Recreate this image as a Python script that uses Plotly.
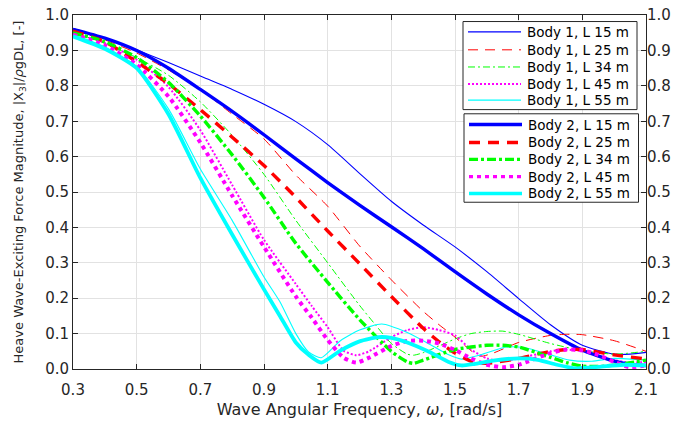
import plotly.graph_objects as go

# ---------------- data ----------------
# Body 1 (thin lines)
b1_l15_w = [0.3, 0.4, 0.5, 0.6, 0.7, 0.8, 0.9, 1.0, 1.1, 1.2, 1.3, 1.4, 1.5, 1.6, 1.7, 1.8, 1.9, 2.0, 2.05, 2.1]
b1_l15_v = [0.962, 0.935, 0.902, 0.866, 0.828, 0.790, 0.748, 0.699, 0.634, 0.553, 0.474, 0.407, 0.345, 0.275, 0.199, 0.125, 0.067, 0.042, 0.042, 0.047]

b1_l25_w = [0.3, 0.4, 0.5, 0.6, 0.7, 0.8, 0.9, 1.0, 1.1, 1.2, 1.3, 1.4, 1.45, 1.5, 1.55, 1.58, 1.62, 1.7, 1.8, 1.85, 1.9, 2.0, 2.1]
b1_l25_v = [0.957, 0.930, 0.893, 0.845, 0.790, 0.720, 0.650, 0.548, 0.460, 0.348, 0.252, 0.163, 0.125, 0.090, 0.052, 0.036, 0.045, 0.075, 0.095, 0.098, 0.097, 0.080, 0.050]

b1_l34_w = [0.3, 0.4, 0.5, 0.6, 0.7, 0.8, 0.9, 1.0, 1.1, 1.2, 1.25, 1.3, 1.35, 1.37, 1.4, 1.45, 1.5, 1.55, 1.6, 1.65, 1.7, 1.8, 1.9, 2.0, 2.1]
b1_l34_v = [0.952, 0.920, 0.880, 0.830, 0.755, 0.660, 0.550, 0.420, 0.300, 0.180, 0.125, 0.072, 0.042, 0.039, 0.046, 0.065, 0.085, 0.100, 0.106, 0.107, 0.098, 0.072, 0.052, 0.042, 0.050]

b1_l45_w = [0.3, 0.4, 0.5, 0.6, 0.7, 0.8, 0.9, 1.0, 1.05, 1.1, 1.15, 1.19, 1.23, 1.3, 1.35, 1.4, 1.45, 1.5, 1.55, 1.6, 1.65, 1.7, 1.8, 1.85, 1.9, 2.0, 2.05, 2.1]
b1_l45_v = [0.948, 0.922, 0.874, 0.797, 0.675, 0.520, 0.365, 0.240, 0.178, 0.118, 0.052, 0.039, 0.050, 0.090, 0.110, 0.118, 0.110, 0.095, 0.055, 0.030, 0.022, 0.030, 0.050, 0.055, 0.050, 0.025, 0.018, 0.020]

b1_l55_w = [0.3, 0.4, 0.5, 0.6, 0.7, 0.8, 0.9, 0.95, 1.0, 1.04, 1.08, 1.14, 1.2, 1.27, 1.35, 1.42, 1.48, 1.52, 1.58, 1.66, 1.72, 1.8, 1.86, 1.93, 2.0, 2.1]
b1_l55_v = [0.945, 0.910, 0.855, 0.735, 0.565, 0.420, 0.260, 0.190, 0.100, 0.048, 0.032, 0.080, 0.110, 0.127, 0.103, 0.070, 0.040, 0.028, 0.040, 0.062, 0.060, 0.040, 0.025, 0.022, 0.030, 0.025]

# Body 2 (thick lines)
b2_l15_w = [0.3, 0.4, 0.5, 0.6, 0.7, 0.8, 0.9, 1.0, 1.1, 1.2, 1.3, 1.4, 1.5, 1.6, 1.7, 1.8, 1.9, 2.0, 2.05, 2.1]
b2_l15_v = [0.960, 0.935, 0.900, 0.850, 0.790, 0.728, 0.662, 0.594, 0.527, 0.463, 0.402, 0.340, 0.275, 0.212, 0.153, 0.100, 0.053, 0.022, 0.013, 0.010]

b2_l25_w = [0.3, 0.4, 0.5, 0.6, 0.7, 0.8, 0.9, 1.0, 1.1, 1.2, 1.3, 1.4, 1.45, 1.5, 1.55, 1.58, 1.62, 1.7, 1.8, 1.85, 1.9, 2.0, 2.1]
b2_l25_v = [0.955, 0.925, 0.868, 0.806, 0.733, 0.655, 0.575, 0.485, 0.390, 0.298, 0.205, 0.115, 0.077, 0.045, 0.022, 0.016, 0.018, 0.030, 0.050, 0.055, 0.055, 0.040, 0.028]

b2_l34_w = [0.3, 0.4, 0.5, 0.6, 0.7, 0.8, 0.9, 1.0, 1.1, 1.2, 1.3, 1.35, 1.37, 1.4, 1.5, 1.6, 1.65, 1.7, 1.8, 1.85, 1.9, 1.95, 2.0, 2.1]
b2_l34_v = [0.950, 0.925, 0.880, 0.810, 0.715, 0.605, 0.485, 0.355, 0.245, 0.140, 0.050, 0.020, 0.016, 0.025, 0.055, 0.067, 0.067, 0.062, 0.033, 0.018, 0.008, 0.007, 0.011, 0.025]

b2_l45_w = [0.3, 0.4, 0.5, 0.6, 0.7, 0.8, 0.9, 1.0, 1.05, 1.1, 1.15, 1.19, 1.23, 1.3, 1.35, 1.4, 1.45, 1.5, 1.55, 1.6, 1.65, 1.7, 1.8, 1.85, 1.9, 1.95, 2.0, 2.05, 2.1]
b2_l45_v = [0.945, 0.915, 0.860, 0.770, 0.640, 0.490, 0.345, 0.205, 0.145, 0.082, 0.032, 0.018, 0.032, 0.065, 0.079, 0.080, 0.072, 0.054, 0.030, 0.012, 0.005, 0.012, 0.045, 0.055, 0.053, 0.040, 0.020, 0.005, 0.010]

b2_l55_w = [0.3, 0.4, 0.5, 0.6, 0.7, 0.8, 0.9, 0.95, 1.0, 1.04, 1.08, 1.14, 1.2, 1.26, 1.3, 1.35, 1.42, 1.48, 1.52, 1.56, 1.62, 1.7, 1.76, 1.82, 1.88, 1.95, 2.03, 2.1]
b2_l55_v = [0.940, 0.905, 0.850, 0.720, 0.540, 0.380, 0.225, 0.150, 0.075, 0.040, 0.018, 0.052, 0.078, 0.090, 0.088, 0.075, 0.048, 0.020, 0.010, 0.014, 0.024, 0.030, 0.026, 0.012, 0.002, 0.006, 0.012, 0.010]

names_b1 = ["Body 1, L 15 m", "Body 1, L 25 m", "Body 1, L 34 m", "Body 1, L 45 m", "Body 1, L 55 m"]
names_b2 = ["Body 2, L 15 m", "Body 2, L 25 m", "Body 2, L 34 m", "Body 2, L 45 m", "Body 2, L 55 m"]

x_ticks = [0.3, 0.5, 0.7, 0.9, 1.1, 1.3, 1.5, 1.7, 1.9, 2.1]
y_ticks = [0.0, 0.1, 0.2, 0.3, 0.4, 0.5, 0.6, 0.7, 0.8, 0.9, 1.0]

# ---------------- styling ----------------
colors = ["#0000FF", "#FF0000", "#00FF00", "#FF00FF", "#00FFFF"]
thin_dash = ["solid", "10px,7px", "7px,3px,2px,3px", "2px,2px", "solid"]
thin_w = [1.1, 1.0, 1.0, 2.0, 1.1]
thick_dash = ["solid", "11px,8px", "9px,3px,3px,3px", "4px,4px", "solid"]
thick_w = [3.4, 3.4, 3.4, 4.0, 3.8]

FONT = "DejaVu Sans"
INK = "#262626"

# figure geometry (pixels)
W, H = 679, 421
ML, MR, MT, MB = 73, 33, 6, 52
PW, PH = W - ML - MR, H - MT - MB


def px(xp):
    return (xp - ML) / PW


def py(yp):
    return (H - MB - yp) / PH


b1 = [(b1_l15_w, b1_l15_v), (b1_l25_w, b1_l25_v), (b1_l34_w, b1_l34_v), (b1_l45_w, b1_l45_v), (b1_l55_w, b1_l55_v)]
b2 = [(b2_l15_w, b2_l15_v), (b2_l25_w, b2_l25_v), (b2_l34_w, b2_l34_v), (b2_l45_w, b2_l45_v), (b2_l55_w, b2_l55_v)]

fig = go.Figure()
for i, (w, v) in enumerate(b1):
    fig.add_trace(go.Scatter(x=w, y=v, mode="lines", name=names_b1[i], showlegend=False,
                             line=dict(color=colors[i], width=thin_w[i], dash=thin_dash[i],
                                       shape="spline", smoothing=0.6)))
for i, (w, v) in enumerate(b2):
    fig.add_trace(go.Scatter(x=w, y=v, mode="lines", name=names_b2[i], showlegend=False,
                             line=dict(color=colors[i], width=thick_w[i], dash=thick_dash[i],
                                       shape="spline", smoothing=0.6)))
# invisible trace so the right-hand axis is drawn
fig.add_trace(go.Scatter(x=[x_ticks[0]], y=[y_ticks[0]], yaxis="y2", mode="markers",
                         marker=dict(opacity=0), showlegend=False, hoverinfo="skip"))

# ---------------- two boxed legends (drawn as shapes + text) ----------------
shapes, annotations = [], []
boxes = [
    dict(x0=463, x1=637, y0=12.7, y1=103, rows=[23.3, 41.7, 59.3, 76.7, 93.3],
         names=names_b1, widths=thin_w, dashes=thin_dash),
    dict(x0=464, x1=638.5, y0=107.3, y1=198, rows=[118.3, 136.7, 154.0, 171.7, 189.0],
         names=names_b2, widths=thick_w, dashes=thick_dash),
]
for b in boxes:
    shapes.append(dict(type="rect", xref="paper", yref="paper", layer="above",
                       x0=px(b["x0"]), x1=px(b["x1"]), y0=py(b["y1"]), y1=py(b["y0"]),
                       fillcolor="white", line=dict(color=INK, width=1)))
    for k, yr in enumerate(b["rows"]):
        shapes.append(dict(type="line", xref="paper", yref="paper", layer="above",
                           x0=px(b["x0"] + 5), x1=px(b["x0"] + 58), y0=py(yr), y1=py(yr),
                           line=dict(color=colors[k], width=min(b["widths"][k], 3.4),
                                     dash=b["dashes"][k])))
        annotations.append(dict(xref="paper", yref="paper", x=px(b["x0"] + 62), y=py(yr),
                                xanchor="left", yanchor="middle", showarrow=False,
                                text=b["names"][k],
                                font=dict(family=FONT, size=13.5, color="black")))

axis_common = dict(ticks="inside", ticklen=5, tickcolor=INK, tickwidth=1,
                   tickfont=dict(family=FONT, size=15, color=INK), zeroline=False,
                   ticklabeloverflow="allow")

fig.update_layout(
    width=W, height=H,
    margin=dict(l=ML, r=MR, t=MT, b=MB),
    paper_bgcolor="white", plot_bgcolor="white",
    showlegend=False,
    shapes=shapes, annotations=annotations,
    xaxis=dict(range=[0.3, 2.1], tickvals=x_ticks, ticktext=[f"{t:.1f}" for t in x_ticks],
               showgrid=True, gridcolor="#e2e2e2", gridwidth=1,
               showline=True, linecolor=INK, linewidth=1, mirror="ticks",
               ticklabelstandoff=7,
               title=dict(text="Wave Angular Frequency, <i>ω</i>, [rad/s]",
                          font=dict(family=FONT, size=16, color=INK), standoff=5),
               **axis_common),
    yaxis=dict(range=[0, 1.0004], tickvals=y_ticks, ticktext=[f"{t:.1f}" for t in y_ticks],
               showgrid=True, gridcolor="#e2e2e2", gridwidth=1,
               showline=True, linecolor=INK, linewidth=1, mirror="ticks",
               title=dict(text="Heave Wave-Exciting Force Magnitude, |X<sub>3</sub>|/<i>ρ</i>gDL, [-]",
                          font=dict(family=FONT, size=13, color=INK), standoff=18),
               **axis_common),
    yaxis2=dict(range=[0, 1.0004], overlaying="y", side="right", tickvals=y_ticks,
                ticktext=[f"{t:.1f}" for t in y_ticks], showgrid=False, showline=False,
                **axis_common),
)

fig.write_html("out.html")
